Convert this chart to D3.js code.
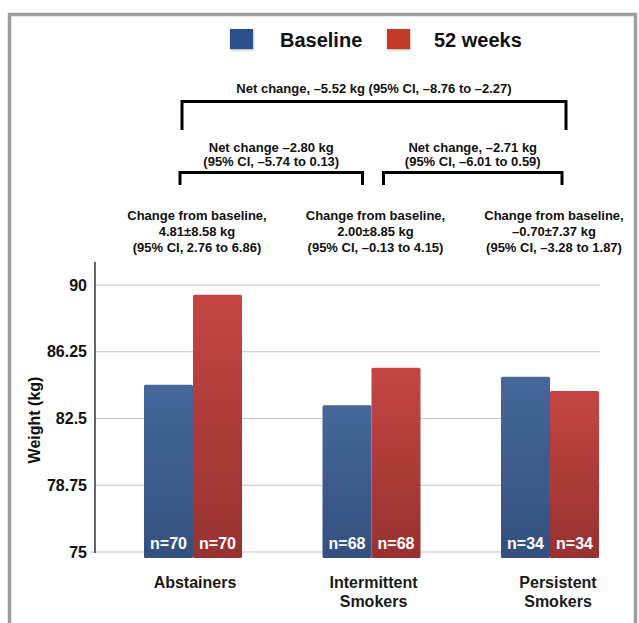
<!DOCTYPE html>
<html>
<head>
<meta charset="utf-8">
<script src="https://cdn.jsdelivr.net/npm/d3@7"></script>
<style>
  html, body { margin: 0; padding: 0; background: #fff; }
  svg { display: block; }
  text { font-family: "Liberation Sans", Arial, Helvetica, sans-serif; font-weight: bold; }
</style>
</head>
<body>
<svg id="chart" width="639" height="623"></svg>
<script>
// ---- data ----
const categories = ["Abstainers", "Intermittent Smokers", "Persistent Smokers"];
const categoryLines = [["Abstainers"], ["Intermittent", "Smokers"], ["Persistent", "Smokers"]];
const seriesNames = ["Baseline", "52 weeks"];
const baselineValues = [84.4, 83.25, 84.85];
const week52Values = [89.45, 85.35, 84.05];
const nCounts = [70, 68, 34];
const yTicks = [75, 78.75, 82.5, 86.25, 90];
const yTickLabels = ["75", "78.75", "82.5", "86.25", "90"];
const changeTexts = [
  ["Change from baseline,", "4.81\u00b18.58 kg", "(95% CI, 2.76 to 6.86)"],
  ["Change from baseline,", "2.00\u00b18.85 kg", "(95% CI, \u20130.13 to 4.15)"],
  ["Change from baseline,", "\u20130.70\u00b17.37 kg", "(95% CI, \u20133.28 to 1.87)"]
];
const netPairs = [
  { from: "Abstainers", to: "Intermittent Smokers", lines: ["Net change \u20132.80 kg", "(95% CI, \u20135.74 to 0.13)"] },
  { from: "Intermittent Smokers", to: "Persistent Smokers", lines: ["Net change, \u20132.71 kg", "(95% CI, \u20136.01 to 0.59)"] }
];
const netOverall = { from: "Abstainers", to: "Persistent Smokers", lines: ["Net change, \u20135.52 kg (95% CI, \u20138.76 to \u20132.27)"] };

// ---- layout ----
const svg = d3.select("#chart");
const colors = { "Baseline": ["#46679a", "#33507f"], "52 weeks": ["#c44643", "#973130"] };
const legendColors = { "Baseline": "#2b508a", "52 weeks": "#c13a25" };

const x = d3.scalePoint().domain(categories).range([193, 550]);
const x1 = d3.scaleBand().domain(seriesNames).range([-49, 49]).padding(0);
const y = d3.scaleLinear().domain([75, 90]).range([552, 285]);

const defs = svg.append("defs");
seriesNames.forEach((s, i) => {
  const g = defs.append("linearGradient").attr("id", "grad" + i)
    .attr("x1", 0).attr("y1", 0).attr("x2", 0).attr("y2", 1);
  g.append("stop").attr("offset", "0%").attr("stop-color", colors[s][0]);
  g.append("stop").attr("offset", "100%").attr("stop-color", colors[s][1]);
});
const sh = defs.append("filter").attr("id", "shadow").attr("x", "-20%").attr("y", "-20%").attr("width", "150%").attr("height", "150%");
sh.append("feDropShadow").attr("dx", 0.5).attr("dy", 1).attr("stdDeviation", 0.8).attr("flood-color", "#000").attr("flood-opacity", 0.35);

// frame
svg.append("rect").attr("x", 9.5).attr("y", 14.5).attr("width", 626).attr("height", 700)
  .attr("fill", "none").attr("stroke", "#9e9e9e").attr("stroke-width", 3.5);

// legend
const legend = svg.append("g");
const legendPos = [{ sq: 230, tx: 280 }, { sq: 387, tx: 434 }];
seriesNames.forEach((s, i) => {
  legend.append("rect").attr("x", legendPos[i].sq).attr("y", 29).attr("width", 23).attr("height", 20)
    .attr("fill", legendColors[s]).attr("filter", "url(#shadow)");
  legend.append("text").attr("x", legendPos[i].tx).attr("y", 47).attr("font-size", 20)
    .attr("fill", "#111").text(s);
});

// gridlines
svg.append("g").selectAll("line").data(yTicks).join("line")
  .attr("x1", d => d === 75 ? 90 : 95).attr("x2", 600)
  .attr("y1", d => y(d)).attr("y2", d => y(d))
  .attr("stroke", "#c4c4c4").attr("stroke-width", 1.2);

// y axis
const yAxis = d3.axisLeft(y).tickValues(yTicks).tickSize(0).tickPadding(8)
  .tickFormat((d, i) => yTickLabels[i]);
const ya = svg.append("g").attr("transform", "translate(95,0)").call(yAxis);
ya.select(".domain").remove();
ya.selectAll("text").attr("font-size", 16).attr("fill", "#111")
  .style("font-family", "'Liberation Sans', Arial, sans-serif").style("font-weight", "bold");
svg.append("line").attr("x1", 95).attr("x2", 95).attr("y1", 262).attr("y2", 553)
  .attr("stroke", "#333").attr("stroke-width", 1.5);

svg.append("text").attr("transform", "translate(40,420) rotate(-90)")
  .attr("text-anchor", "middle").attr("font-size", 16).attr("fill", "#111").text("Weight (kg)");

// bars
const rows = categories.map((c, i) => ({ cat: c, vals: [baselineValues[i], week52Values[i]], n: nCounts[i] }));
const groups = svg.append("g").selectAll("g").data(rows).join("g")
  .attr("transform", d => `translate(${x(d.cat)},0)`);
const bottom = y(75) + 6;
groups.selectAll("rect").data(d => d.vals.map((v, j) => ({ s: seriesNames[j], v, j }))).join("rect")
  .attr("x", d => x1(d.s)).attr("width", x1.bandwidth())
  .attr("y", d => y(d.v)).attr("height", d => bottom - y(d.v))
  .attr("rx", 1.5)
  .attr("fill", d => `url(#grad${d.j})`);
groups.selectAll("text.n").data(d => seriesNames.map(s => ({ s, n: d.n }))).join("text")
  .attr("class", "n")
  .attr("x", d => x1(d.s) + x1.bandwidth() / 2).attr("y", 549)
  .attr("text-anchor", "middle").attr("font-size", 16).attr("fill", "#fff")
  .text(d => "n=" + d.n);

// category labels
categories.forEach((c, i) => {
  const t = svg.append("text").attr("text-anchor", "middle").attr("font-size", 16).attr("fill", "#1a1a1a");
  categoryLines[i].forEach((line, k) => {
    t.append("tspan").attr("x", x(c) + 2 + (i === 2 ? 6 : 0)).attr("y", 588 + k * 18.5).text(line);
  });
});

// change from baseline texts
categories.forEach((c, i) => {
  const t = svg.append("text").attr("text-anchor", "middle").attr("font-size", 13).attr("fill", "#111");
  changeTexts[i].forEach((line, k) => {
    t.append("tspan").attr("x", x(c) + 4).attr("y", 220 + k * 16).text(line);
  });
});

// brackets
function bracket(x0, x1b, top, bot) {
  svg.append("path")
    .attr("d", `M${x0},${bot}V${top}H${x1b}V${bot}`)
    .attr("fill", "none").attr("stroke", "#000").attr("stroke-width", 3)
    .attr("stroke-linejoin", "miter");
}
// overall
bracket(x(netOverall.from) - 11, x(netOverall.to) + 16, 101.5, 130);
svg.append("text").attr("x", (x(netOverall.from) - 11 + x(netOverall.to) + 16) / 2).attr("y", 92.5)
  .attr("text-anchor", "middle").attr("font-size", 13).attr("fill", "#111").text(netOverall.lines[0]);
// pairs
const pairOffsets = [[-13, -9], [12, 12]];
netPairs.forEach((p, i) => {
  const a = x(p.from) + pairOffsets[i][0], b = x(p.to) + pairOffsets[i][1];
  bracket(a, b, 172.5, 185);
  const t = svg.append("text").attr("text-anchor", "middle").attr("font-size", 13).attr("fill", "#111");
  p.lines.forEach((line, k) => {
    t.append("tspan").attr("x", (a + b) / 2).attr("y", 151.5 + k * 14.5).text(line);
  });
});
</script>
</body>
</html>
